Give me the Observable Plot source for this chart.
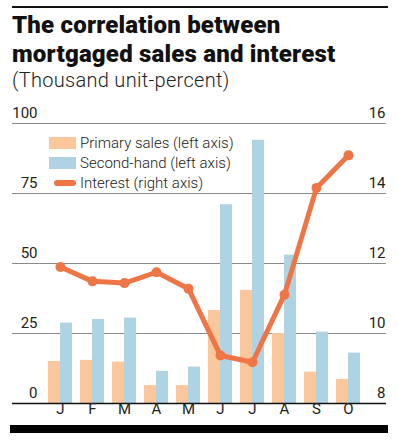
<!DOCTYPE html>
<html><head><meta charset="utf-8">
<script src="https://cdn.jsdelivr.net/npm/d3@7"></script>
<script src="https://cdn.jsdelivr.net/npm/@observablehq/plot@0.6"></script>
<style>
body{margin:0;background:#fff;font-family:Roboto,"Noto Sans",sans-serif;}
#wrap{position:relative;width:398px;height:441px;overflow:hidden;background:#fff}
#topline{position:absolute;left:12px;top:6px;width:376px;height:2px;background:#111}
#title{position:absolute;left:12px;top:11px;font-weight:900;font-size:24px;line-height:29px;color:#111;letter-spacing:0.2px;white-space:nowrap}
#subtitle{position:absolute;left:12px;top:69px;font-weight:300;font-size:20px;line-height:22px;color:#222;letter-spacing:0.3px;white-space:nowrap}
#chart{position:absolute;left:0;top:100px}
#bottombar{position:absolute;left:10px;top:425px;width:378px;height:8px;background:#000}
#legend{position:absolute;left:49px;top:133px;font-size:15px;font-weight:300;color:#222}
.row{height:20px;display:flex;align-items:center;white-space:nowrap}
.sw{width:27px;height:12px;margin-right:4px}
.ln{width:22px;height:6px;border-radius:3px;margin:0 4px 0 5px}
</style></head>
<body>
<div id="wrap">
  <div id="topline"></div>
  <div id="title">The correlation between<br>mortgaged sales and interest</div>
  <div id="subtitle">(Thousand unit-percent)</div>
  <div id="chart"></div>
  <div id="legend"></div>
  <div id="bottombar"></div>
</div>
<script>
const months = ["Jan","Feb","Mar","Apr","May","Jun","Jul","Aug","Sep","Oct"];
const monthLabels = ["J","F","M","A","M","J","J","A","S","O"];
const primarySales = [15, 15.4, 14.8, 6.4, 6.4, 33.2, 40.4, 25, 11.2, 8.6];
const secondHand = [28.7, 30, 30.5, 11.5, 13, 71, 94, 53, 25.5, 18];
const interest = [11.9, 11.49, 11.44, 11.75, 11.28, 9.37, 9.18, 11.11, 14.16, 15.09];
const leftTicks = [0, 25, 50, 75, 100];
const rightTicks = [8, 10, 12, 14, 16];
const seriesNames = ["Primary sales (left axis)", "Second-hand (left axis)", "Interest (right axis)"];
const colors = ["#FBC79B", "#AFD3E3", "#EE7646"];

// map right axis (8..16) onto left axis (0..100)
const toLeft = v => (v - 8) * 12.5;

const rows = months.map((m, i) => ({month: m, primary: primarySales[i], second: secondHand[i], interest: interest[i]}));

const chart = Plot.plot({
  width: 398,
  height: 345,
  marginLeft: 43,
  marginRight: 34,
  marginTop: 23,
  marginBottom: 42,
  style: {fontFamily: "Roboto, sans-serif", fontSize: "15px", color: "#222", background: "transparent"},
  x: {domain: months, paddingInner: 0.25, paddingOuter: 0.125, axis: null},
  y: {domain: [0, 100], axis: null},
  marks: [
    Plot.ruleY(leftTicks.filter(d => d > 0), {y: d => d, stroke: "#8a8a8a", strokeWidth: 1, insetLeft: -31, insetRight: -22}),
    Plot.barY(rows, {x: "month", y: "primary", fill: colors[0], insetRight: 12}),
    Plot.barY(rows, {x: "month", y: "second", fill: colors[1], insetLeft: 12}),
    Plot.ruleY([0], {stroke: "#111", strokeWidth: 1.5, insetLeft: -31, insetRight: -22}),
    Plot.line(rows, {x: "month", y: d => toLeft(d.interest), stroke: colors[2], strokeWidth: 5, strokeLinejoin: "round"}),
    Plot.dot(rows, {x: "month", y: d => toLeft(d.interest), fill: colors[2], r: 5}),
    Plot.text(leftTicks, {y: d => d, text: d => String(d), frameAnchor: "left", textAnchor: "end", dx: -6, dy: -10, fill: "#222", fontSize: 15}),
    Plot.text(rightTicks, {y: d => toLeft(d), text: d => String(d), frameAnchor: "right", textAnchor: "end", dx: 21, dy: -10, fill: "#222", fontSize: 15}),
    Plot.text(months, {x: d => d, text: (d, i) => monthLabels[i], frameAnchor: "bottom", dy: 10, fill: "#222", fontSize: 15})
  ]
});
document.getElementById("chart").appendChild(chart);

const legend = document.getElementById("legend");
seriesNames.forEach((name, i) => {
  const row = document.createElement("div");
  row.className = "row";
  const mark = document.createElement("div");
  mark.className = i < 2 ? "sw" : "ln";
  mark.style.background = colors[i];
  const label = document.createElement("span");
  label.textContent = name;
  row.appendChild(mark);
  row.appendChild(label);
  legend.appendChild(row);
});
</script>
</body></html>
